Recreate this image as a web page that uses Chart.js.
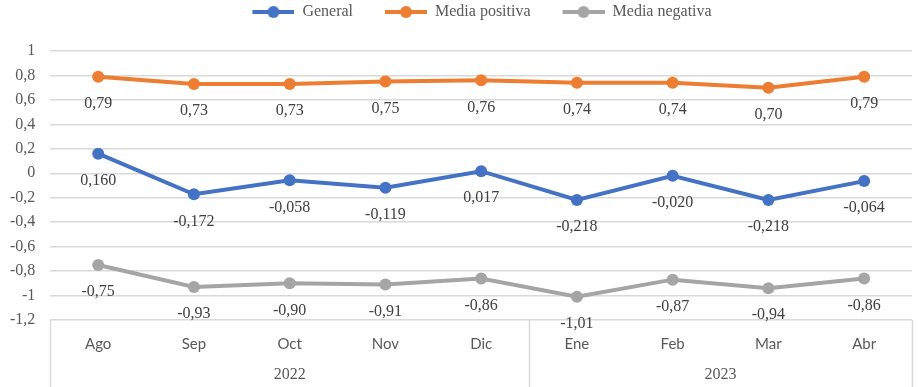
<!DOCTYPE html>
<html>
<head>
<meta charset="utf-8">
<script src="https://cdn.jsdelivr.net/npm/chart.js@4.4.0/dist/chart.umd.min.js"></script>
<style>
    html, body { margin: 0; padding: 0; background: #fff; }
    #wrap { width: 918px; height: 387px; }
</style>
</head>
<body>
<div id="wrap"><canvas id="line_chart"></canvas></div>
<script>
var months = ["Ago", "Sep", "Oct", "Nov", "Dic", "Ene", "Feb", "Mar", "Abr"];
var years = ["2022", "2023"];
var yearSpans = [5, 4];
var general = [0.160, -0.172, -0.058, -0.119, 0.017, -0.218, -0.020, -0.218, -0.064];
var positiva = [0.79, 0.73, 0.73, 0.75, 0.76, 0.74, 0.74, 0.70, 0.79];
var negativa = [-0.75, -0.93, -0.90, -0.91, -0.86, -1.01, -0.87, -0.94, -0.86];
var decimals = [3, 2, 2];

var serif = "'Liberation Serif', 'Times New Roman', serif";
var gridColor = '#d9d9d9';
var textColor = '#595959';

function comma(v, d) {
    return v.toFixed(d).replace('.', ',');
}

// legend icon: line with a dot in the middle, some blank room on the left
function legendIcon(color) {
    var c = document.createElement('canvas');
    c.width = 70;
    c.height = 14;
    var ctx = c.getContext('2d');
    ctx.strokeStyle = color;
    ctx.lineWidth = 4;
    ctx.beginPath();
    ctx.moveTo(28, 7);
    ctx.lineTo(70, 7);
    ctx.stroke();
    ctx.fillStyle = color;
    ctx.beginPath();
    ctx.arc(49, 7, 6, 0, Math.PI * 2);
    ctx.fill();
    return c;
}

var legendGap = {
    id: 'legendGap',
    beforeInit: function (chart) {
        var fit = chart.legend.fit;
        chart.legend.fit = function () {
            fit.bind(chart.legend)();
            this.height += 21;
        };
    },
    afterLayout: function (chart) {
        // legend sits a bit right of centre in the original
        chart.legend.left += 14;
        chart.legend.right += 14;
    }
};

var pointLabels = {
    id: 'pointLabels',
    afterDatasetsDraw: function (chart) {
        var ctx = chart.ctx;
        ctx.save();
        ctx.font = "16px " + serif;
        ctx.fillStyle = '#404040';
        ctx.textAlign = 'center';
        ctx.textBaseline = 'middle';
        chart.data.datasets.forEach(function (ds, i) {
            chart.getDatasetMeta(i).data.forEach(function (pt, j) {
                ctx.fillText(comma(ds.data[j], decimals[i]), pt.x, pt.y + 27);
            });
        });
        ctx.restore();
    }
};

var yearAxis = {
    id: 'yearAxis',
    afterDraw: function (chart) {
        var ctx = chart.ctx;
        var area = chart.chartArea;
        var x = chart.scales.x;
        var half = (x.getPixelForTick(1) - x.getPixelForTick(0)) / 2;
        ctx.save();
        ctx.strokeStyle = gridColor;
        ctx.lineWidth = 1.5;
        ctx.font = "16px " + serif;
        ctx.fillStyle = textColor;
        ctx.textAlign = 'center';
        ctx.textBaseline = 'middle';
        var start = 0;
        var edges = [x.getPixelForTick(0) - half];
        years.forEach(function (y, i) {
            var end = start + yearSpans[i] - 1;
            var left = x.getPixelForTick(start) - half;
            var right = x.getPixelForTick(end) + half;
            edges.push(right);
            ctx.fillText(y, (left + right) / 2, chart.height - 12);
            start = end + 1;
        });
        edges.forEach(function (e) {
            ctx.beginPath();
            ctx.moveTo(Math.round(e) + 0.5, area.bottom);
            ctx.lineTo(Math.round(e) + 0.5, chart.height);
            ctx.stroke();
        });
        ctx.restore();
    }
};

function series(label, data, color) {
    return {
        label: label,
        data: data,
        borderColor: color,
        backgroundColor: color,
        borderWidth: 4,
        pointRadius: 6,
        pointHoverRadius: 6,
        pointStyle: 'circle',
        pointBackgroundColor: color,
        pointBorderWidth: 0,
        tension: 0
    };
}

new Chart(document.getElementById("line_chart").getContext("2d"), {
    type: 'line',
    data: {
        labels: months,
        datasets: [
            series("General", general, '#4472c4'),
            series("Media positiva", positiva, '#ed7d31'),
            series("Media negativa", negativa, '#a5a5a5')
        ]
    },
    options: {
        responsive: true,
        maintainAspectRatio: false,
        animation: false,
        layout: { padding: { left: -5, right: 5, top: 0, bottom: 19 } },
        plugins: {
            legend: {
                position: 'top',
                labels: {
                    usePointStyle: true,
                    pointStyleWidth: 70,
                    padding: 4,
                    color: textColor,
                    font: { family: serif, size: 16 },
                    generateLabels: function (chart) {
                        return chart.data.datasets.map(function (ds, i) {
                            return {
                                text: ds.label,
                                fontColor: textColor,
                                pointStyle: legendIcon(ds.borderColor),
                                lineWidth: 0,
                                hidden: false,
                                datasetIndex: i
                            };
                        });
                    }
                }
            },
            tooltip: { enabled: false }
        },
        scales: {
            x: {
                offset: true,
                grid: { display: false, drawTicks: false },
                border: { display: false },
                ticks: {
                    padding: 15,
                    color: textColor,
                    font: { family: 'Lato', size: 15 },
                    maxRotation: 0
                }
            },
            y: {
                min: -1.2,
                max: 1,
                border: { display: false },
                grid: { color: gridColor, lineWidth: 1.5, drawTicks: false },
                ticks: {
                    stepSize: 0.2,
                    maxTicksLimit: 20,
                    autoSkip: false,
                    padding: 15,
                    color: textColor,
                    font: { family: serif, size: 16 },
                    callback: function (v) {
                        return String(Math.round(v * 10) / 10).replace('.', ',');
                    }
                }
            }
        }
    },
    plugins: [legendGap, pointLabels, yearAxis]
});
</script>
</body>
</html>
